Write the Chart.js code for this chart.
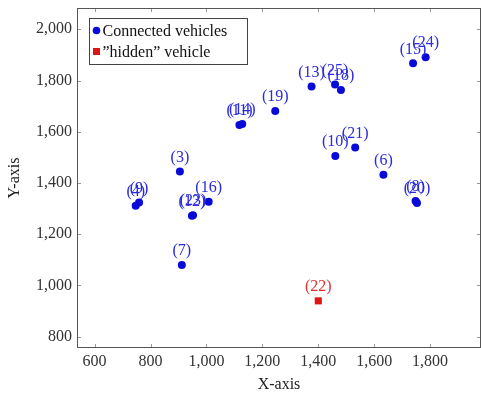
<!DOCTYPE html>
<html>
<head>
<meta charset="utf-8">
<script src="https://cdn.jsdelivr.net/npm/chart.js@4/dist/chart.umd.min.js"></script>
<style>
  html, body { margin: 0; padding: 0; background: #fff; }
  canvas { display: block; }
</style>
</head>
<body>
<canvas id="c" width="481" height="398"></canvas>
<script>
// Vehicle positions: id, x, y
const vehicleIds = [3, 4, 6, 7, 8, 9, 10, 11, 12, 13, 14, 15, 16, 18, 19, 20, 21, 23, 24, 25];
const vehicleX   = [905, 747, 1633, 912, 1748, 759, 1461, 1118, 948, 1376, 1128, 1739, 1008, 1481, 1246, 1753, 1532, 952, 1784, 1460];
const vehicleY   = [1445, 1311, 1432, 1080, 1330, 1324, 1505, 1626, 1272, 1777, 1630, 1867, 1327, 1763, 1681, 1322, 1539, 1274, 1891, 1784];

const hiddenIds = [22];
const hiddenX   = [1400];
const hiddenY   = [940];

const xTicks = [600, 800, 1000, 1200, 1400, 1600, 1800];
const yTicks = [800, 1000, 1200, 1400, 1600, 1800, 2000];

const seriesNames = ['Connected vehicles', '\u201Dhidden\u201D vehicle'];

const SERIF = "'Liberation Serif', 'Times New Roman', serif";
const BLUE = '#0a0ad8';
const BLUE_TEXT = '#2a2ae0';
const RED = '#dd1515';
const RED_TEXT = '#e03030';

const toPoints = (xs, ys) => xs.map((x, i) => ({ x: x, y: ys[i] }));

// Boxed frame with inward tick marks on all four sides
const framePlugin = {
  id: 'frame',
  beforeDatasetsDraw(chart) {
    const { ctx, chartArea: a, scales } = chart;
    ctx.save();
    ctx.strokeStyle = '#999';
    ctx.lineWidth = 1;
    const len = 4;
    xTicks.forEach(v => {
      const px = Math.round(scales.x.getPixelForValue(v)) + 0.5;
      ctx.beginPath();
      ctx.moveTo(px, a.bottom); ctx.lineTo(px, a.bottom - len);
      ctx.moveTo(px, a.top); ctx.lineTo(px, a.top + len);
      ctx.stroke();
    });
    yTicks.forEach(v => {
      const py = Math.round(scales.y.getPixelForValue(v)) + 0.5;
      ctx.beginPath();
      ctx.moveTo(a.left, py); ctx.lineTo(a.left + len, py);
      ctx.moveTo(a.right, py); ctx.lineTo(a.right - len, py);
      ctx.stroke();
    });
    ctx.strokeStyle = '#555';
    ctx.strokeRect(Math.round(a.left) + 0.5, Math.round(a.top) + 0.5,
                   Math.round(a.right - a.left) - 1, Math.round(a.bottom - a.top) - 1);
    ctx.restore();
  }
};

// Vehicle id labels above each mark
const idLabelPlugin = {
  id: 'idLabels',
  afterDatasetsDraw(chart) {
    const { ctx } = chart;
    ctx.save();
    ctx.font = '16px ' + SERIF;
    ctx.textAlign = 'center';
    ctx.textBaseline = 'middle';
    chart.data.datasets.forEach((ds, di) => {
      const meta = chart.getDatasetMeta(di);
      ctx.fillStyle = ds.labelColor;
      meta.data.forEach((el, i) => {
        ctx.fillText('(' + ds.ids[i] + ')', el.x, el.y - 14);
      });
    });
    ctx.restore();
  }
};

// Legend box inside the plot area
const boxLegendPlugin = {
  id: 'boxLegend',
  afterDraw(chart) {
    const { ctx, chartArea: a } = chart;
    const x0 = Math.round(a.left) + 12.5, y0 = Math.round(a.top) + 10.5, w = 158, h = 46;
    ctx.save();
    ctx.fillStyle = '#fff';
    ctx.fillRect(x0, y0, w, h);
    ctx.strokeStyle = '#444';
    ctx.lineWidth = 1;
    ctx.strokeRect(x0, y0, w, h);
    ctx.font = '16px ' + SERIF;
    ctx.textBaseline = 'middle';
    ctx.textAlign = 'left';
    const mx = x0 + 7;
    const rows = [y0 + 12, y0 + 33];
    // circle marker
    ctx.fillStyle = BLUE;
    ctx.beginPath(); ctx.arc(mx, rows[0], 3.8, 0, Math.PI * 2); ctx.fill();
    // square marker
    ctx.fillStyle = RED;
    ctx.fillRect(mx - 3.5, rows[1] - 3.5, 7, 7);
    ctx.fillStyle = '#111';
    ctx.fillText(seriesNames[0], mx + 6, rows[0] + 1);
    ctx.fillText(seriesNames[1], mx + 6, rows[1] + 1);
    ctx.restore();
  }
};

const tickFont = { family: SERIF, size: 16 };

new Chart(document.getElementById('c'), {
  type: 'scatter',
  data: {
    datasets: [
      {
        label: seriesNames[0],
        ids: vehicleIds,
        labelColor: BLUE_TEXT,
        data: toPoints(vehicleX, vehicleY),
        pointStyle: 'circle',
        pointRadius: 4,
        pointHoverRadius: 4,
        backgroundColor: BLUE,
        borderColor: BLUE,
        borderWidth: 0
      },
      {
        label: seriesNames[1],
        ids: hiddenIds,
        labelColor: RED_TEXT,
        data: toPoints(hiddenX, hiddenY),
        pointStyle: 'rect',
        pointRadius: 5,
        pointHoverRadius: 5,
        backgroundColor: RED,
        borderColor: RED,
        borderWidth: 0
      }
    ]
  },
  options: {
    responsive: false,
    animation: false,
    events: [],
    layout: { autoPadding: false, padding: { top: 8, right: -1, left: 0, bottom: 0 } },
    plugins: {
      legend: { display: false },
      tooltip: { enabled: false }
    },
    scales: {
      x: {
        type: 'linear',
        min: 537,
        max: 1982,
        afterBuildTicks: s => { s.ticks = xTicks.map(v => ({ value: v })); },
        afterFit: s => { s.height = 50; s.paddingLeft = 0; s.paddingRight = 0; },
        grid: { display: false, drawTicks: false },
        border: { display: false },
        ticks: {
          font: tickFont,
          color: '#333',
          padding: 4,
          maxRotation: 0,
          autoSkip: false,
          callback: v => v.toLocaleString('en-US')
        },
        title: {
          display: true,
          text: 'X-axis',
          font: { family: SERIF, size: 16 },
          color: '#222',
          padding: { top: 0, bottom: 4 }
        }
      },
      y: {
        type: 'linear',
        min: 756,
        max: 2083,
        afterBuildTicks: s => { s.ticks = yTicks.map(v => ({ value: v })); },
        afterFit: s => { s.width = 77; s.paddingTop = 0; s.paddingBottom = 0; },
        grid: { display: false, drawTicks: false },
        border: { display: false },
        ticks: {
          font: tickFont,
          color: '#333',
          padding: 5,
          autoSkip: false,
          callback: v => v.toLocaleString('en-US')
        },
        title: {
          display: true,
          text: 'Y-axis',
          font: { family: SERIF, size: 16 },
          color: '#222',
          padding: { top: 5, bottom: 0 }
        }
      }
    }
  },
  plugins: [framePlugin, idLabelPlugin, boxLegendPlugin]
});
</script>
</body>
</html>
